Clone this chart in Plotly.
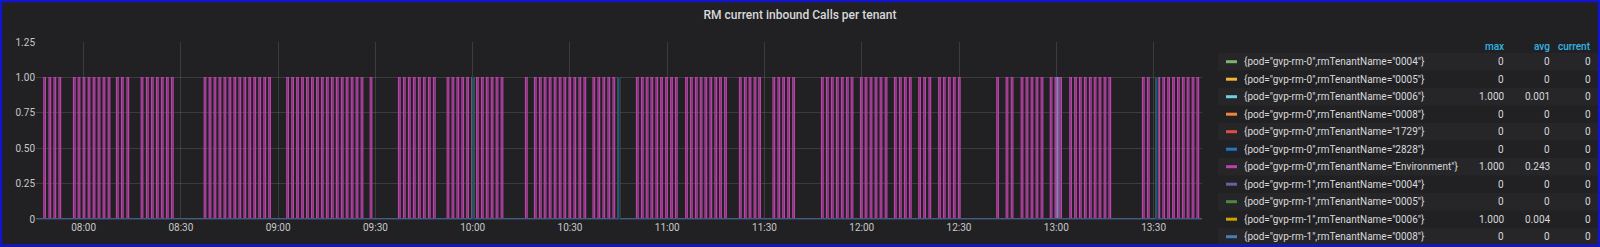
import datetime as dt
import plotly.graph_objects as go

# ---------------- data ----------------
series_names = [
    '{pod="gvp-rm-0",rmTenantName="0004"}',
    '{pod="gvp-rm-0",rmTenantName="0005"}',
    '{pod="gvp-rm-0",rmTenantName="0006"}',
    '{pod="gvp-rm-0",rmTenantName="0008"}',
    '{pod="gvp-rm-0",rmTenantName="1729"}',
    '{pod="gvp-rm-0",rmTenantName="2828"}',
    '{pod="gvp-rm-0",rmTenantName="Environment"}',
    '{pod="gvp-rm-1",rmTenantName="0004"}',
    '{pod="gvp-rm-1",rmTenantName="0005"}',
    '{pod="gvp-rm-1",rmTenantName="0006"}',
    '{pod="gvp-rm-1",rmTenantName="0008"}',
    '{pod="gvp-rm-1",rmTenantName="1729"}',
    '{pod="gvp-rm-1",rmTenantName="2828"}',
    '{pod="gvp-rm-1",rmTenantName="Environment"}',
]
series_colors = ['#7EB26D', '#EAB839', '#6ED0E0', '#EF843C', '#E24D42', '#1F78C1', '#BA43A9',
                 '#705DA0', '#508642', '#CCA300', '#447EBC', '#C15C17', '#890F02', '#0A437C']
legend_max = ['0', '0', '1.000', '0', '0', '0', '1.000', '0', '0', '1.000', '0', '0', '0', '1.000']
legend_avg = ['0', '0', '0.001', '0', '0', '0', '0.243', '0', '0', '0.004', '0', '0', '0', '0.004']
legend_current = ['0'] * 14

# start of time window and spike times (minutes after 07:45:00) where value == 1
window_start = "07:45:19"
window_end = "13:44:56"
spikes_rm0_env = [
    2.97, 4.58, 6.12, 7.66,
    12.13, 13.58, 15.12, 16.67, 18.21, 19.75, 21.29, 22.84,
    25.39, 26.94, 28.63,
    33.01, 34.65, 36.19, 37.73, 39.27, 40.82, 42.36,
    52.44, 53.98, 55.50, 57.04, 58.58, 60.12, 61.63, 63.18, 64.72, 66.23, 67.77, 69.31, 70.86, 72.37,
    77.92, 79.46, 80.97, 82.51, 84.02, 85.57, 87.11, 88.62, 90.16, 91.70, 93.21, 94.76, 96.27, 97.81,
    99.32, 100.86,
    103.64,
    112.37, 113.91, 115.45, 116.99, 118.54, 120.08, 121.62, 123.16,
    127.38, 128.90, 130.41, 131.92, 133.43, 134.94, 136.45, 137.97, 139.48, 140.99, 142.50, 144.04,
    151.54,
    154.31, 155.85, 157.33, 158.88, 160.42, 161.96, 163.41, 164.95, 166.49, 168.04, 169.58,
    172.35, 173.90, 175.44, 176.98, 178.52,
    185.77, 187.31, 188.79, 190.24, 191.78, 193.23, 194.78, 196.32, 197.80,
    200.94, 202.43, 203.97, 205.45, 206.90, 208.44, 209.98, 211.43, 212.97,
    217.54, 219.08, 220.53, 222.07, 223.49,
    227.87, 229.41, 230.89, 232.43, 233.97,
    242.83, 244.37, 245.91, 247.45, 248.99, 250.54, 251.99,
    254.86, 256.31, 257.85, 259.39, 260.93, 262.50,
    265.34, 266.89, 268.43, 269.97,
    272.84, 274.38, 275.98,
    278.97, 280.45, 282.00, 283.54, 285.08,
    296.89,
    299.79, 301.36,
    304.42, 305.96, 307.50, 309.04, 310.58,
    313.39, 314.87, 316.32,
    319.41, 320.92, 322.40, 323.94, 325.48, 326.96, 328.47, 330.01, 331.49,
    341.83, 343.37,
    346.61, 348.12, 349.63, 351.14, 352.65, 354.16, 355.64, 357.16, 358.64,
]
spikes_rm0_0006 = [315.24]
spikes_rm1_0006 = [135.10, 180.06, 345.99]
spikes_rm1_env = [135.10, 180.06, 345.99]
series_spikes = {2: spikes_rm0_0006, 6: spikes_rm0_env, 9: spikes_rm1_0006, 13: spikes_rm1_env}

y_ticks = [0, 0.25, 0.5, 0.75, 1.0, 1.25]
y_tick_text = ['0', '0.25', '0.50', '0.75', '1.00', '1.25']
title_text = 'RM current inbound Calls per tenant'

# ---------------- build ----------------
day = dt.datetime(2021, 1, 1)
base = day.replace(hour=7, minute=45)
def clock(s):
    h, m, sec = (int(v) for v in s.split(':'))
    return day.replace(hour=h, minute=m, second=sec)
x_start, x_end = clock(window_start), clock(window_end)
STEP = dt.timedelta(seconds=30)   # scrape interval

def build(spikes):
    # staircase samples: value 1 held for one scrape interval centred on the spike time
    xs, ys = [x_start], [0]
    for m in spikes:
        t = base + dt.timedelta(minutes=m) - STEP / 2
        xs += [t, t + STEP]
        ys += [1, 0]
    xs.append(x_end); ys.append(0)
    return xs, ys

def rgba(hexc, a):
    h = hexc.lstrip('#')
    return 'rgba(%d,%d,%d,%s)' % (int(h[0:2], 16), int(h[2:4], 16), int(h[4:6], 16), a)

fig = go.Figure()
for i, (name, col) in enumerate(zip(series_names, series_colors)):
    xs, ys = build(series_spikes.get(i, []))
    fig.add_trace(go.Scatter(
        x=xs, y=ys, mode='lines', name=name, line=dict(color=col, width=1.2, shape='hv'),
        fill='tozeroy' if i in series_spikes else None,
        fillcolor=rgba(col, 0.3), showlegend=False, hoverinfo='skip'))

W, H = 1600, 247
L, R, T, B = 36, 398, 42, 27
PW, PH = W - L - R, H - T - B
def px_x(x): return (x - L) / PW
def px_y(y): return (H - B - y) / PH

BG = '#212124'
TXT = '#d8d9da'
FONT = 'Roboto'

shapes = []
annotations = []
# legend table
ann_font = dict(family=FONT, size=10, color=TXT)
head_font = dict(family=FONT, size=10, color='#33b5e5', weight=500)
for lbl, xr in (('max', 1506), ('avg', 1552), ('current', 1593)):
    annotations.append(dict(x=px_x(xr), y=px_y(46), xref='paper', yref='paper', text=lbl,
                            showarrow=False, xanchor='right', yanchor='middle', font=head_font))
row0, row_h = 61.7, 17.5
for i, name in enumerate(series_names):
    yc = row0 + i * row_h
    if yc - 6 > H:
        break
    if i % 2 == 0:
        shapes.append(dict(type='rect', xref='paper', yref='paper', layer='below',
                           x0=px_x(1218), x1=px_x(1598), y0=px_y(yc - row_h / 2), y1=px_y(yc + row_h / 2),
                           fillcolor='#262629', line=dict(width=0)))
    shapes.append(dict(type='line', xref='paper', yref='paper', x0=px_x(1226), x1=px_x(1237),
                       y0=px_y(yc), y1=px_y(yc), line=dict(color=series_colors[i], width=3)))
    annotations.append(dict(x=px_x(1242), y=px_y(yc), xref='paper', yref='paper', text=name,
                            showarrow=False, xanchor='left', yanchor='middle', font=ann_font))
    for val, xr in ((legend_max[i], 1506), (legend_avg[i], 1552), (legend_current[i], 1593)):
        annotations.append(dict(x=px_x(xr), y=px_y(yc), xref='paper', yref='paper', text=val,
                                showarrow=False, xanchor='right', yanchor='middle', font=ann_font))

# outer blue border
shapes.append(dict(type='rect', xref='paper', yref='paper', layer='above',
                   x0=px_x(1), x1=px_x(W - 1), y0=px_y(H - 1.5), y1=px_y(1),
                   line=dict(color='#1414c8', width=2.5), fillcolor='rgba(0,0,0,0)'))

fig.update_layout(
    width=W, height=H, margin=dict(l=L, r=R, t=T, b=B, pad=0),
    paper_bgcolor=BG, plot_bgcolor=BG,
    title=dict(text=title_text, x=0.5, xref='container', xanchor='center', y=1 - 15 / H, yanchor='middle',
               font=dict(family=FONT, size=12, color=TXT, weight=500)),
    font=dict(family=FONT, size=10, color='#c8c8c8'),
    xaxis=dict(type='date', range=[x_start, x_end], dtick=30 * 60 * 1000, tickformat='%H:%M',
               tick0=day.replace(hour=8), showgrid=True, gridcolor='rgba(255,255,255,0.12)', gridwidth=1,
               zeroline=False, showline=False, ticks='', ticklen=0,
               tickfont=dict(family=FONT, size=10, color='#c8c8c8'), fixedrange=True),
    yaxis=dict(range=[-0.004, 1.25], tickvals=y_ticks, ticktext=y_tick_text, showgrid=True,
               gridcolor='rgba(255,255,255,0.12)', gridwidth=1, zeroline=False, showline=False,
               ticks='', tickfont=dict(family=FONT, size=10, color='#c8c8c8'), fixedrange=True),
    shapes=shapes, annotations=annotations, showlegend=False,
)
fig.write_html('out.html')
